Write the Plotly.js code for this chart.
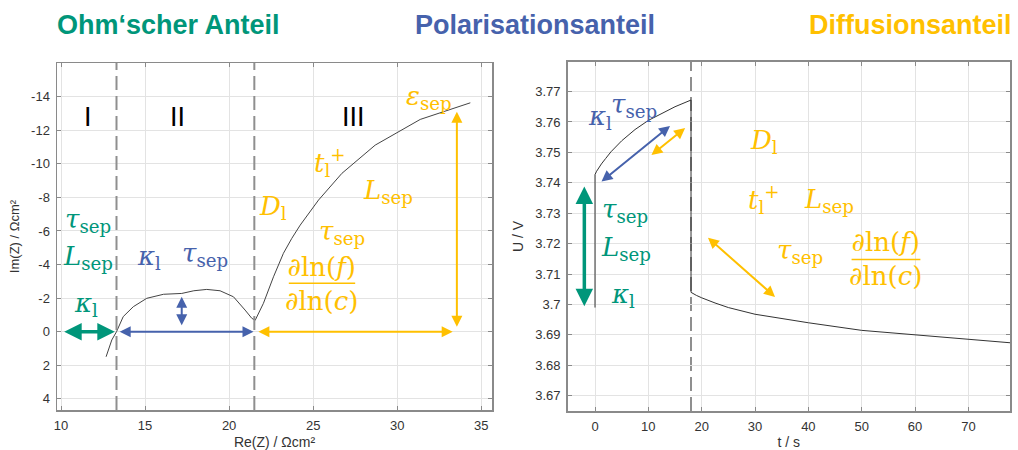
<!DOCTYPE html>
<html>
<head>
<meta charset="utf-8">
<script src="https://cdn.plot.ly/plotly-3.0.1.min.js"></script>
<style>html,body{margin:0;padding:0;background:#fff;}#chart{width:1018px;height:450px;}</style>
</head>
<body>
<div id="chart"></div>
<script>
// ---------- data ----------
const panelTitles = ['Ohm\u2018scher Anteil', 'Polarisationsanteil', 'Diffusionsanteil'];
const regionLabels = ['I', 'II', 'III'];

// Nyquist plot (left)
const nyquistRe = [12.68, 13.02, 13.3, 13.7, 14.3, 15.1, 16.1, 17.18, 17.9, 18.67, 19.46, 20.26, 20.95, 21.35, 21.55,
                   22.04, 22.64, 23.23, 23.73, 24.23, 25.32, 26.01, 26.71, 28.69, 31.37, 34.35];
const nyquistIm = [1.49, 0.49, 0.0, -0.9, -1.49, -1.99, -2.23, -2.28, -2.44, -2.52, -2.44, -2.08, -1.29, -0.8, -0.68,
                   -1.69, -3.27, -4.67, -5.56, -6.35, -7.84, -8.63, -9.43, -11.11, -12.64, -13.63];
const regionBounds = [13.3, 21.5];
const reTicks = [10, 15, 20, 25, 30, 35];
const imTicks = [-14, -12, -10, -8, -6, -4, -2, 0, 2, 4];
const imTickText = ['-14', '-12', '-10', '-8', '-6', '-4', '-2', '0', '2', '4'];

// Pulse response (right)
const pulseT = [0, 0, 0.3, 0.7, 1.2, 2, 3, 5, 7.5, 10, 12.5, 15, 18, 18, 19, 20, 22.5, 25, 30, 35, 40, 50, 60, 70, 78];
const pulseU = [3.699, 3.7427, 3.7438, 3.7449, 3.7462, 3.748, 3.7502, 3.7538, 3.7575, 3.7605, 3.7628, 3.765, 3.7672,
                3.704, 3.703, 3.7022, 3.7005, 3.699, 3.6968, 3.6953, 3.694, 3.6915, 3.690, 3.6885, 3.6874];
const pulseEnd = [18];
const tTicks = [0, 10, 20, 30, 40, 50, 60, 70];
const uTicks = [3.67, 3.68, 3.69, 3.70, 3.71, 3.72, 3.73, 3.74, 3.75, 3.76, 3.77];
const uTickText = ['3.67', '3.68', '3.69', '3.7', '3.71', '3.72', '3.73', '3.74', '3.75', '3.76', '3.77'];

// ---------- styles ----------
const GREEN = '#00967A', BLUE = '#4662AC', YELLOW = '#FFC000';
const MATH = 'DejaVu Serif';
const SANS = 'Liberation Sans, Arial, sans-serif';
const W = 1018, H = 450;
const px = v => v / W, py = v => 1 - v / H;

const tau = '<i>τ</i><sub>sep</sub>';
const Lsep = '<i>L</i><sub>sep</sub>';
const kap = '<i>κ</i><sub>l</sub>';
const Dl = '<i>D</i><sub>l</sub>';
const tplus = '<i>t</i><sub>l</sub><sup>+</sup>';
const eps = '<i>ε</i><sub>sep</sub>';
const frac = '∂ln(<i>f</i>)<br>∂ln(<i>c</i>)';

function axisBase(extra) {
  return Object.assign({
    showline: true, mirror: 'ticks', linecolor: '#8a8a8a', linewidth: 1.5,
    ticks: 'inside', ticklen: 4, tickcolor: '#8a8a8a', tickwidth: 1,
    showgrid: true, gridcolor: '#e3e3e3', gridwidth: 1, zeroline: false,
    tickfont: {family: SANS, size: 13, color: '#333'},
    ticklabelstandoff: 3, automargin: false, fixedrange: true
  }, extra);
}

const traces = [
  {x: nyquistRe, y: nyquistIm, type: 'scatter', mode: 'lines', xaxis: 'x', yaxis: 'y',
   line: {color: '#444', width: 1}, hoverinfo: 'skip', showlegend: false},
  {x: pulseT, y: pulseU, type: 'scatter', mode: 'lines', xaxis: 'x2', yaxis: 'y2',
   line: {color: '#333', width: 1}, hoverinfo: 'skip', showlegend: false}
];

function txt(x, y, text, color, xr, yr, size, fam) {
  return {x: x, y: y, xref: xr, yref: yr, text: text, showarrow: false,
          font: {family: fam || MATH, size: size || 26, color: color},
          xanchor: 'center', yanchor: 'middle'};
}
function arrow(x0, y0, x1, y1, color, w, xr, yr, size) {
  return {x: x1, y: y1, ax: x0, ay: y0, xref: xr, yref: yr, axref: xr, ayref: yr,
          text: '', showarrow: true, arrowhead: 2, startarrowhead: 2, arrowside: 'end+start',
          arrowsize: size || 1.1, startarrowsize: size || 1.1, arrowwidth: w, arrowcolor: color,
          standoff: 0, startstandoff: 0};
}
function title(x, text, color) {
  return {x: px(x), y: py(25), xref: 'paper', yref: 'paper', text: '<b>' + text + '</b>', showarrow: false,
          font: {family: SANS, size: 27, color: color}, xanchor: 'center', yanchor: 'middle'};
}

const annotations = [
  title(168.5, panelTitles[0], GREEN),
  title(534.7, panelTitles[1], BLUE),
  title(910, panelTitles[2], YELLOW),

  // left: region labels
  txt(11.63, -12.8, regionLabels[0], '#000', 'x', 'y', 27, SANS),
  txt(16.9, -12.8, regionLabels[1], '#000', 'x', 'y', 27, SANS),
  txt(27.4, -12.8, regionLabels[2], '#000', 'x', 'y', 27, SANS),

  // left: green
  txt(11.63, -6.6, tau, GREEN, 'x', 'y'),
  txt(11.63, -4.4, Lsep, GREEN, 'x', 'y'),
  txt(11.5, -1.65, kap, GREEN, 'x', 'y'),
  // left: blue
  txt(15.26, -4.4, kap, BLUE, 'x', 'y'),
  txt(18.57, -4.6, tau, BLUE, 'x', 'y'),
  // left: yellow
  txt(22.64, -7.4, Dl, YELLOW, 'x', 'y'),
  txt(26.0, -10.1, tplus, YELLOW, 'x', 'y'),
  txt(29.48, -8.35, Lsep, YELLOW, 'x', 'y'),
  txt(26.7, -5.9, tau, YELLOW, 'x', 'y'),
  txt(25.5, -2.85, frac, YELLOW, 'x', 'y'),
  txt(31.9, -13.95, eps, YELLOW, 'x', 'y'),

  // left arrows
  arrow(10.1, 0, 13.2, 0, GREEN, 3.5, 'x', 'y', 1),
  arrow(13.4, 0, 21.45, 0, BLUE, 2, 'x', 'y'),
  arrow(17.18, -0.3, 17.18, -2.08, BLUE, 2, 'x', 'y'),
  arrow(21.65, 0, 33.3, 0, YELLOW, 2, 'x', 'y'),
  arrow(33.55, -0.2, 33.55, -13.1, YELLOW, 2, 'x', 'y'),

  // right: blue
  txt(0.9, 3.7613, kap, BLUE, 'x2', 'y2'),
  txt(7.3, 3.7655, tau, BLUE, 'x2', 'y2'),
  // right: green
  txt(5.6, 3.7310, tau, GREEN, 'x2', 'y2'),
  txt(5.9, 3.7185, Lsep, GREEN, 'x2', 'y2'),
  txt(5.3, 3.7030, kap, GREEN, 'x2', 'y2'),
  // right: yellow
  txt(31.6, 3.7535, Dl, YELLOW, 'x2', 'y2'),
  txt(31.6, 3.7345, tplus, YELLOW, 'x2', 'y2'),
  txt(43.8, 3.7342, Lsep, YELLOW, 'x2', 'y2'),
  txt(38.4, 3.7175, tau, YELLOW, 'x2', 'y2'),
  txt(54.4, 3.7150, frac, YELLOW, 'x2', 'y2'),

  // right arrows
  arrow(-2.0, 3.6989, -2.0, 3.7388, GREEN, 3.5, 'x2', 'y2', 1),
  arrow(0.94, 3.7400, 14.06, 3.7587, BLUE, 2, 'x2', 'y2'),
  arrow(10.3, 3.7487, 16.9, 3.7580, YELLOW, 2, 'x2', 'y2'),
  arrow(20.9, 3.7224, 33.75, 3.7025, YELLOW, 2, 'x2', 'y2')
];

const shapes = [];
regionBounds.forEach(b => shapes.push({type: 'line', xref: 'x', yref: 'y domain', x0: b, x1: b, y0: 0, y1: 1,
  line: {color: '#8f8f8f', width: 2, dash: '14px,6px'}, layer: 'above'}));
pulseEnd.forEach(b => shapes.push({type: 'line', xref: 'x2', yref: 'y2 domain', x0: b, x1: b, y0: 0, y1: 1,
  line: {color: '#8f8f8f', width: 2, dash: '14px,6px'}, layer: 'below'}));
// fraction bars
shapes.push({type: 'line', xref: 'x', yref: 'y', x0: 23.55, x1: 27.5, y0: -2.88, y1: -2.88, line: {color: YELLOW, width: 1.5}});
shapes.push({type: 'line', xref: 'x2', yref: 'y2', x0: 48.1, x1: 61.0, y0: 3.7148, y1: 3.7148, line: {color: YELLOW, width: 1.5}});

const layout = {
  width: W, height: H, margin: {l: 0, r: 0, t: 0, b: 0},
  paper_bgcolor: '#fff', plot_bgcolor: '#fff', showlegend: false,
  xaxis: axisBase({domain: [px(57), px(492)], range: [9.76, 35.64], tickvals: reTicks, anchor: 'y',
    title: {text: 'Re(Z) / Ωcm²', font: {family: SANS, size: 14, color: '#333'}, standoff: 6}}),
  yaxis: axisBase({domain: [1 - 410 / H, 1 - 63 / H], range: [4.66, -16.0], tickvals: imTicks, ticktext: imTickText, anchor: 'x',
    title: {text: 'Im(Z) / Ωcm²', font: {family: SANS, size: 13, color: '#333'}, standoff: 8}}),
  xaxis2: axisBase({domain: [px(567.7), px(1010)], range: [-5.12, 77.8], tickvals: tTicks, anchor: 'y2',
    title: {text: 't / s', font: {family: SANS, size: 14, color: '#333'}, standoff: 6}}),
  yaxis2: axisBase({domain: [1 - 411 / H, 1 - 61.7 / H], range: [3.665, 3.7798], tickvals: uTicks, ticktext: uTickText, anchor: 'x2',
    title: {text: 'U / V', font: {family: SANS, size: 14, color: '#333'}, standoff: 8}}),
  annotations: annotations,
  shapes: shapes
};

Plotly.newPlot('chart', traces, layout, {displayModeBar: false, staticPlot: true});
</script>
</body>
</html>
